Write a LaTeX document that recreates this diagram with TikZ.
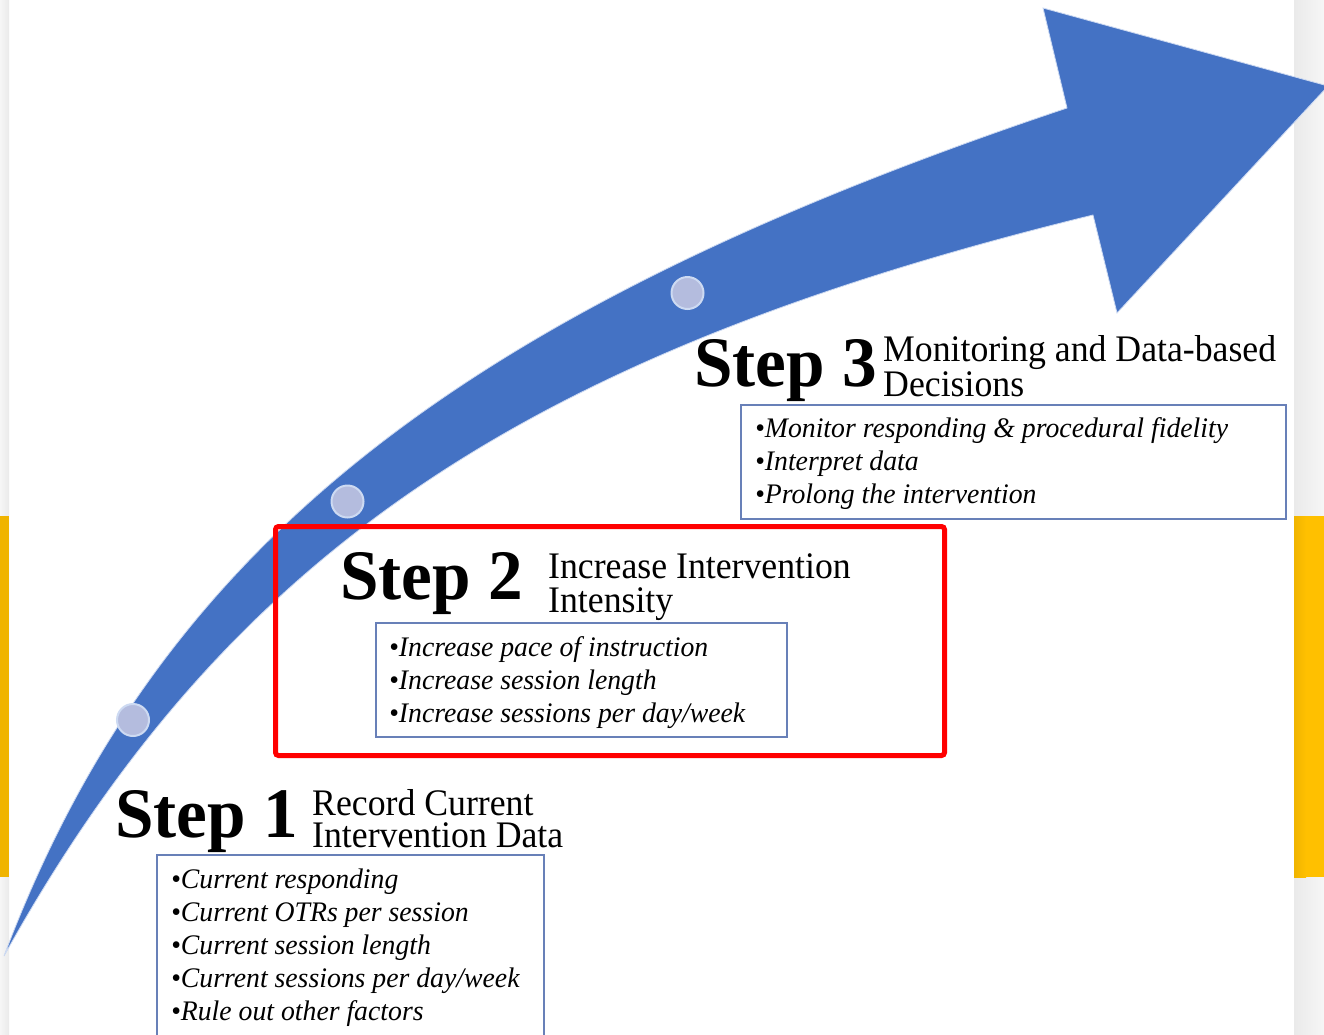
\documentclass[tikz,border=0pt]{standalone}
\usepackage{fontspec}
\setmainfont{Liberation Serif}
% narrow cuts of the serif face for titles, subtitles and lists
\newfontfamily\stepfamily{Liberation Serif}[FakeStretch=0.975]
\newfontfamily\subfamily{Liberation Serif}[FakeStretch=0.953]
\newfontfamily\listfamily{Liberation Serif}[FakeStretch=0.98]

\definecolor{arrowblue}{RGB}{68,114,196}
\definecolor{arrowedge}{RGB}{205,218,242}
\definecolor{dotfill}{RGB}{180,188,222}
\definecolor{boxedge}{RGB}{104,128,184}
\definecolor{amber}{RGB}{255,192,0}
\definecolor{amberdark}{RGB}{240,180,0}
\definecolor{rimgray}{RGB}{234,234,234}
\definecolor{pagegray}{RGB}{246,246,246}
\definecolor{markred}{RGB}{255,0,0}

\begin{document}
\begin{tikzpicture}[x=1pt,y=-1pt,
  steptitle/.style={anchor=base west, inner sep=0pt,
    font=\stepfamily\bfseries\fontsize{71}{71}\selectfont},
  subtitle/.style={anchor=base west, inner sep=0pt,
    font=\subfamily\fontsize{37.5}{37.5}\selectfont},
  bulletline/.style={anchor=base west, inner sep=0pt,
    font=\listfamily\itshape\fontsize{28.3}{28.3}\selectfont},
  listbox/.style={draw=boxedge, line width=1.5pt, fill=white,
    anchor=north west, inner sep=0pt},
  marker/.style={circle, minimum size=32pt, inner sep=0pt,
    fill=dotfill, draw=arrowedge, line width=2pt},
  highlight/.style={draw=markred, line width=5pt, rounded corners=3pt,
    anchor=north west, inner sep=0pt},
]
\useasboundingbox (0,0) rectangle (1324,1034);
\clip (0,0) rectangle (1324,1034);

% page and side rims
\fill[white] (0,0) rectangle (1324,1034);
\shade[left color=pagegray, right color=rimgray] (0,0) rectangle (9,1034);
\shade[left color=rimgray, right color=pagegray] (1294,0) rectangle (1324,1034);
\fill[amberdark] (0,516) rectangle (9,877);
\shade[left color=amberdark, right color=amber] (1294,516) rectangle (1306,877);
\fill[amber] (1306,516) rectangle (1324,877);

% curved arrow
\filldraw[fill=arrowblue, draw=arrowedge, line width=0.8pt, line join=miter]
  (4,956) .. controls (157,550) and (455,313) .. (1067,108)
  -- (1043,8) -- (1328,86) -- (1117,313) -- (1093,215)
  .. controls (521,355) and (227,555) .. (4,956) -- cycle;

% milestones on the arrow
\node[marker] (m1) at (133,720) {};
\node[marker] (m2) at (347.5,501.5) {};
\node[marker] (m3) at (687.5,293) {};

% Step 3
\node[steptitle] (s3) at (694,386) {Step 3};
\node[subtitle] (s3a) at (883,361) {Monitoring and Data-based};
\node[subtitle] (s3b) at (883,396) {Decisions};
\node[listbox, minimum width=545pt, minimum height=114pt] (box3) at (740,404) {};
\node[bulletline] (b3a) at (755,437) {•Monitor responding \& procedural fidelity};
\node[bulletline] (b3b) at (755,470) {•Interpret data};
\node[bulletline] (b3c) at (755,503) {•Prolong the intervention};

% Step 2
\node[highlight, minimum width=669pt, minimum height=229pt] (hl) at (273,524) {};
\node[steptitle] (s2) at (340,599) {Step 2};
\node[subtitle] (s2a) at (548,578) {Increase Intervention};
\node[subtitle] (s2b) at (548,612) {Intensity};
\node[listbox, minimum width=411pt, minimum height=114pt] (box2) at (375,622) {};
\node[bulletline] (b2a) at (389,656) {•Increase pace of instruction};
\node[bulletline] (b2b) at (389,689) {•Increase session length};
\node[bulletline] (b2c) at (389,722) {•Increase sessions per day/week};

% Step 1
\node[steptitle] (s1) at (115,837) {Step 1};
\node[subtitle] (s1a) at (312,815) {Record Current};
\node[subtitle] (s1b) at (312,847) {Intervention Data};
\node[listbox, minimum width=387pt, minimum height=200pt] (box1) at (156,854) {};
\node[bulletline] (b1a) at (171,888) {•Current responding};
\node[bulletline] (b1b) at (171,921) {•Current OTRs per session};
\node[bulletline] (b1c) at (171,954) {•Current session length};
\node[bulletline] (b1d) at (171,987) {•Current sessions per day/week};
\node[bulletline] (b1e) at (171,1020) {•Rule out other factors};
\end{tikzpicture}
\end{document}
